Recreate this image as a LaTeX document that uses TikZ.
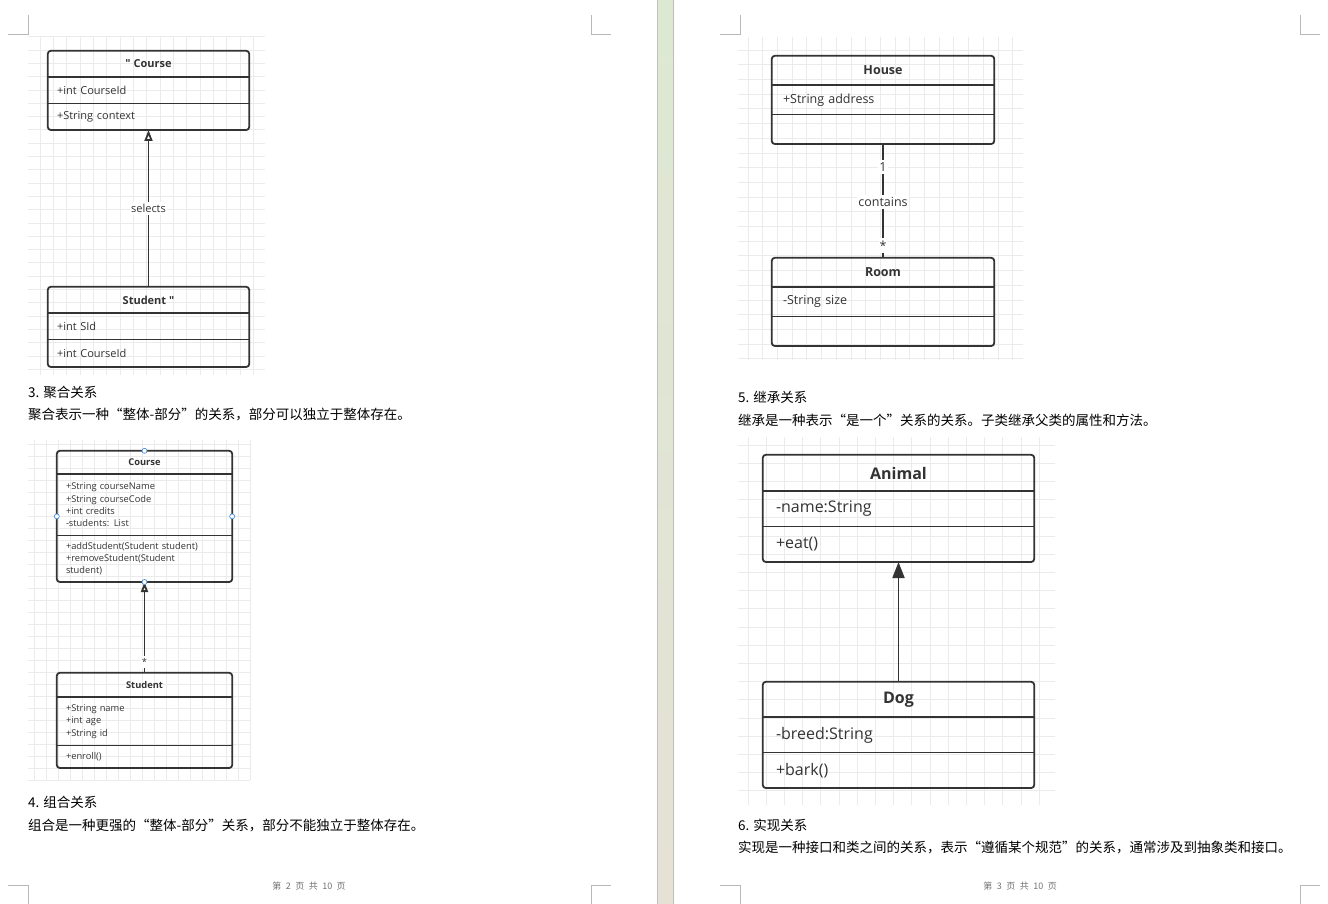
\documentclass[tikz,border=0pt]{standalone}
\usepackage{fontspec}
\setmainfont{Open Sans}[Ligatures=TeXOff]
\newfontfamily\cjk{Noto Sans CJK SC}
\usepackage{tikz}
\usetikzlibrary{arrows.meta, positioning, calc}
\usepackage{xcolor}
\definecolor{ink}{HTML}{333333}
\definecolor{handleblue}{HTML}{4A90E2}
\definecolor{gutterTop}{HTML}{DDE8D2}
\definecolor{gutterBot}{HTML}{E5E1D5}
\newcommand\sizeA{\fontsize{11}{13}\selectfont}
\newcommand\sizeB{\fontsize{9.3}{12.3}\selectfont}
\newcommand\sizeC{\fontsize{12.5}{15}\selectfont}
\newcommand\sizeD{\fontsize{16}{19}\selectfont}

\begin{document}
\begin{tikzpicture}[x=1pt, y=-1pt,
        hdr/.style n args={3}{minimum width=#1, minimum height=#2, inner sep=0pt, font=\bfseries#3, text=ink},
        row/.style n args={4}{text width=#1, minimum height=#2, inner xsep=#4, inner ysep=0pt, align=left, font=#3, text=ink},
        box/.style={draw=ink, line width=1.8pt, rounded corners=3pt},
        sep/.style={draw=ink, line width=1.5pt},
        link/.style={draw=ink, line width=1.8pt},
        lbl/.style={fill=white, inner xsep=1pt, inner ysep=2.5pt, text=ink},
        gridline/.style={draw=black!8, line width=0.7pt},
        cropmark/.style={draw=black!28, line width=0.8pt},
        para/.style={anchor=west, inner sep=0pt, font=\cjk\fontsize{13.5}{16}\selectfont},
        foot/.style={inner sep=0pt, text=black!55, font=\cjk\fontsize{9}{10}\selectfont},
        handle/.style={circle, draw=handleblue, fill=white, line width=0.7pt, minimum size=5pt, inner sep=0pt}
    ]
    \useasboundingbox (0,0) rectangle (1328,904);
    \fill[white] (0,0) rectangle (1328,904);

    % Separacion entre paginas
    \shade[top color=gutterTop, bottom color=gutterBot] (657,0) rectangle (674,904);
    \draw[black!25] (657.5,0) -- (657.5,904);
    \draw[black!25] (673.5,0) -- (673.5,904);

    % Marcas de esquina
    \draw[cropmark] (8,34.5) -- (28,34.5) -- (28,15);
    \draw[cropmark] (591,15) -- (591,34.5) -- (611,34.5);
    \draw[cropmark] (720,34.5) -- (740,34.5) -- (740,15);
    \draw[cropmark] (1300,15) -- (1300,34.5) -- (1320,34.5);
    \draw[cropmark] (8,885.5) -- (28,885.5) -- (28,904);
    \draw[cropmark] (591,904) -- (591,885.5) -- (611,885.5);
    \draw[cropmark] (720,885.5) -- (740,885.5) -- (740,904);
    \draw[cropmark] (1300,904) -- (1300,885.5) -- (1320,885.5);

    % Cuadriculas de fondo
    \foreach \gx in {40,53.33,...,265} \draw[gridline] (\gx,37) -- (\gx,375);
    \foreach \gy in {36.7,50,...,375} \draw[gridline] (28,\gy) -- (265,\gy);
    \foreach \gx in {34,46,...,250} \draw[gridline] (\gx,440) -- (\gx,780);
    \foreach \gy in {444,456,...,780} \draw[gridline] (28,\gy) -- (250,\gy);
    \foreach \gx in {748,762.7,...,1023} \draw[gridline] (\gx,37) -- (\gx,360);
    \foreach \gy in {50,64.7,...,360} \draw[gridline] (738,\gy) -- (1023,\gy);
    \foreach \gx in {748,766.2,...,1055} \draw[gridline] (\gx,437) -- (\gx,805);
    \foreach \gy in {445,463.2,...,805} \draw[gridline] (738,\gy) -- (1055,\gy);

    % Diagrama: Course / Student (selects)
    \node [hdr={201pt}{26pt}{\sizeA}] (crsT) at (148.5,64) {" Course};
    \node [row={183pt}{26pt}{\sizeA}{9pt}, below=0pt of crsT] (crsA) {+int CourseId};
    \node [row={183pt}{26pt}{\sizeA}{9pt}, below=0pt of crsA] (crsM) {+String context};
    \node [hdr={201pt}{26pt}{\sizeA}] (stdT) at (148.5,300) {Student "};
    \node [row={183pt}{26pt}{\sizeA}{9pt}, below=0pt of stdT] (stdA) {+int SId};
    \node [row={183pt}{27pt}{\sizeA}{9pt}, below=0pt of stdA] (stdM) {+int CourseId};
    \draw [link, -{Triangle[open, length=11pt, width=8pt]}] (stdT.north) -- node[lbl, font=\sizeA] (selects) {selects} (crsM.south);

    % Diagrama: agregacion
    \node [hdr={175pt}{23pt}{\sizeB}] (aggT) at (144.5,462.5) {Course};
    \node [row={157pt}{61pt}{\sizeB}{9pt}, below=0pt of aggT] (aggA) {+String courseName\\+String courseCode\\+int credits\\-students: List};
    \node [row={157pt}{46pt}{\sizeB}{9pt}, below=0pt of aggA] (aggM) {+addStudent(Student student)\\+removeStudent(Student\\student)};
    \node [hdr={175pt}{24pt}{\sizeB}] (partT) at (144.5,685) {Student};
    \node [row={157pt}{48pt}{\sizeB}{9pt}, below=0pt of partT] (partA) {+String name\\+int age\\+String id};
    \node [row={157pt}{22pt}{\sizeB}{9pt}, below=0pt of partA] (partM) {+enroll()};
    \draw [link, -{Triangle[open, length=10pt, width=7pt]}] (partT.north) -- node[lbl, pos=0.12, font=\sizeB] (many2) {*} (aggM.south);

    % Diagrama: House / Room
    \node [hdr={222pt}{29pt}{\sizeC}] (hseT) at (883,70.5) {House};
    \node [row={200pt}{29pt}{\sizeC}{11pt}, below=0pt of hseT] (hseA) {+String address};
    \node [row={200pt}{29pt}{\sizeC}{11pt}, below=0pt of hseA] (hseM) {};
    \node [hdr={222pt}{29pt}{\sizeC}] (romT) at (883,272.5) {Room};
    \node [row={200pt}{29pt}{\sizeC}{11pt}, below=0pt of romT] (romA) {-String size};
    \node [row={200pt}{29pt}{\sizeC}{11pt}, below=0pt of romA] (romM) {};
    \draw [link] (hseM.south) -- node[lbl, pos=0.2, font=\sizeC] (one) {1}
        node[lbl, pos=0.51, font=\sizeC] (contains) {contains}
        node[lbl, pos=0.89, font=\sizeC] (many3) {*} (romT.north);

    % Diagrama: herencia
    \node [hdr={271pt}{36pt}{\sizeD}] (aniT) at (898.5,473) {Animal};
    \node [row={245pt}{35pt}{\sizeD}{13pt}, below=0pt of aniT] (aniA) {-name:String};
    \node [row={245pt}{35pt}{\sizeD}{13pt}, below=0pt of aniA] (aniM) {+eat()};
    \node [hdr={271pt}{35pt}{\sizeD}] (dogT) at (898.5,699.5) {Dog};
    \node [row={245pt}{35pt}{\sizeD}{13pt}, below=0pt of dogT] (dogA) {-breed:String};
    \node [row={245pt}{35pt}{\sizeD}{13pt}, below=0pt of dogA] (dogM) {+bark()};
    \draw [link, -{Triangle[length=16pt, width=12pt]}] (dogT.north) -- (aniM.south);

    % Marcos y separadores de las clases
    \foreach \c in {crs,std,agg,part,hse,rom,ani,dog} {
        \draw [box] (\c T.north west) rectangle (\c M.south east);
        \draw [sep] (\c A.north west) -- (\c A.north east);
        \draw [sep] (\c M.north west) -- (\c M.north east);
    }

    % Puntos de seleccion
    \coordinate (aggMid) at ($(aggT.north)!0.5!(aggM.south)$);
    \node [handle] (hN) at (aggT.north) {};
    \node [handle] (hS) at (aggM.south) {};
    \node [handle] (hW) at (aggMid -| aggT.west) {};
    \node [handle] (hE) at (aggMid -| aggT.east) {};

    % Texto de las paginas
    \node [para] (h3) at (28,392) {3. 聚合关系};
    \node [para] (p3) at (28,415) {聚合表示一种“整体-部分”的关系，部分可以独立于整体存在。};
    \node [para] (h4) at (28,802) {4. 组合关系};
    \node [para] (p4) at (28,825) {组合是一种更强的“整体-部分”关系，部分不能独立于整体存在。};
    \node [para] (h5) at (738,397) {5. 继承关系};
    \node [para] (p5) at (738,420) {继承是一种表示“是一个”关系的关系。子类继承父类的属性和方法。};
    \node [para] (h6) at (738,825) {6. 实现关系};
    \node [para] (p6) at (738,847) {实现是一种接口和类之间的关系，表示“遵循某个规范”的关系，通常涉及到抽象类和接口。};
    \node [foot] (f2) at (309,886) {第\enspace 2\enspace 页\enspace 共\enspace 10\enspace 页};
    \node [foot] (f3) at (1020,886) {第\enspace 3\enspace 页\enspace 共\enspace 10\enspace 页};
\end{tikzpicture}
\end{document}
